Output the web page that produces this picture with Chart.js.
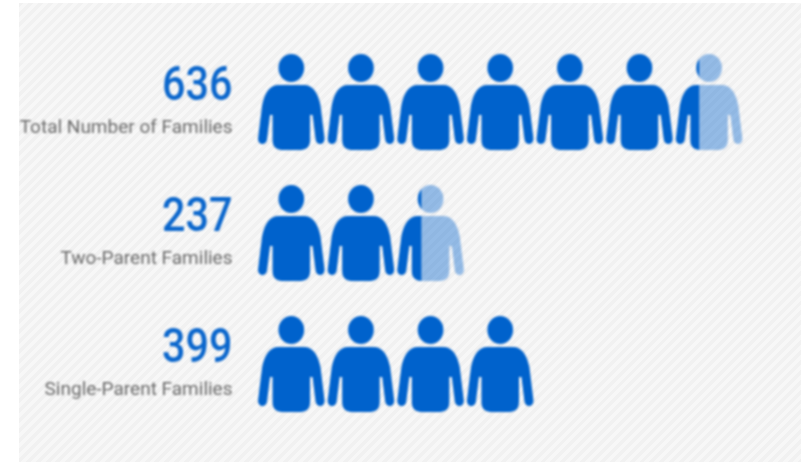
<!DOCTYPE html>
<html><head><meta charset="utf-8">
<script src="https://cdn.jsdelivr.net/npm/chart.js@4"></script>
<style>
html,body{margin:0;padding:0;background:#fff;width:806px;height:462px;overflow:hidden}
#panel{position:absolute;left:19px;top:3px;width:782px;height:459px;overflow:hidden;
background:repeating-linear-gradient(135deg,#f1f1f1 0,#f1f1f1 3.5px,#f7f7f7 3.5px,#f7f7f7 7px)}
#c{position:absolute;left:-19px;top:-3px;filter:blur(0.8px)}
</style></head><body>
<div id="panel"><canvas id="c" width="806" height="462"></canvas></div>
<script>
const categories=["Total Number of Families","Two-Parent Families","Single-Parent Families"];
const values=[636,237,399];
const familiesPerIcon=100;
const axisMax=782;
const fontFamily='Roboto,"Liberation Sans",sans-serif';
const dark='#0062cc', light='rgba(0,98,204,0.4)', numberColor='#0a66cc', labelColor='#6a6a6a';

function person(ctx,cx,top,w,h){
  const sx=w/68, sy=h/97;
  const X=d=>cx+d*sx, Y=d=>top+d*sy;
  ctx.beginPath();
  ctx.ellipse(X(0),Y(15),13*sx,14*sy,0,0,Math.PI*2);
  ctx.closePath();
  ctx.moveTo(X(-13),Y(32));
  ctx.lineTo(X(13),Y(32));
  ctx.bezierCurveTo(X(22),Y(32),X(27),Y(40),X(29.5),Y(52));
  ctx.lineTo(X(33.5),Y(84));
  ctx.bezierCurveTo(X(35),Y(93),X(25),Y(93),X(24.5),Y(86));
  ctx.lineTo(X(21.5),Y(62));
  ctx.lineTo(X(19),Y(62));
  ctx.lineTo(X(19),Y(87));
  ctx.bezierCurveTo(X(19),Y(95),X(14),Y(97),X(8),Y(97));
  ctx.lineTo(X(-8),Y(97));
  ctx.bezierCurveTo(X(-14),Y(97),X(-19),Y(95),X(-19),Y(87));
  ctx.lineTo(X(-19),Y(62));
  ctx.lineTo(X(-21.5),Y(62));
  ctx.lineTo(X(-24.5),Y(86));
  ctx.bezierCurveTo(X(-25),Y(93),X(-35),Y(93),X(-33.5),Y(84));
  ctx.lineTo(X(-29.5),Y(52));
  ctx.bezierCurveTo(X(-27),Y(40),X(-22),Y(32),X(-13),Y(32));
  ctx.closePath();
}

const pictogram={
  id:'pictogram',
  afterDatasetsDraw(chart){
    const {ctx}=chart, xs=chart.scales.x, ys=chart.scales.y;
    const pitch=xs.getPixelForValue(familiesPerIcon)-xs.getPixelForValue(0);
    const iconW=pitch*0.965;
    chart.getDatasetMeta(0).data.forEach((bar,i)=>{
      const n=Math.ceil(values[i]/familiesPerIcon);
      const top=bar.y-bar.height/2;
      for(let k=0;k<n;k++){
        const left=xs.getPixelForValue(k*familiesPerIcon);
        const cx=left+pitch/2;
        const split=Math.min(bar.x,left+pitch);
        ctx.save();
        ctx.beginPath();ctx.rect(left-2,top-2,split-left+2,bar.height+4);ctx.clip();
        ctx.fillStyle=dark;person(ctx,cx,top,iconW,bar.height);ctx.fill();
        ctx.restore();
        if(split<left+pitch){
          ctx.save();
          ctx.beginPath();ctx.rect(split,top-2,left+pitch-split+2,bar.height+4);ctx.clip();
          ctx.fillStyle=light;person(ctx,cx,top,iconW,bar.height);ctx.fill();
          ctx.restore();
        }
      }
      ctx.save();
      ctx.font='500 48px '+fontFamily;
      ctx.fillStyle=numberColor;ctx.textAlign='right';ctx.textBaseline='middle';
      ctx.translate(ys.right-24,bar.y-14);
      ctx.scale(0.86,1);
      ctx.fillText(String(values[i]),0,0);
      ctx.restore();
    });
  }
};

new Chart(document.getElementById('c'),{
  type:'bar',
  data:{labels:categories,datasets:[{data:values,backgroundColor:'rgba(0,0,0,0)',borderWidth:0,barThickness:97}]},
  plugins:[pictogram],
  options:{
    indexAxis:'y',responsive:false,animation:false,devicePixelRatio:1,
    layout:{padding:{top:36,bottom:33,right:5,left:0}},
    plugins:{legend:{display:false},title:{display:false},tooltip:{enabled:false}},
    scales:{
      x:{display:false,min:0,max:axisMax},
      y:{
        afterFit(s){s.width=256.5;s.paddingTop=0;s.paddingBottom=0;},
        grid:{display:false,drawTicks:false},border:{display:false},
        ticks:{color:labelColor,font:{family:fontFamily,size:19},padding:24,labelOffset:27,crossAlign:'near',autoSkip:false}
      }
    }
  }
});
</script>
</body></html>
